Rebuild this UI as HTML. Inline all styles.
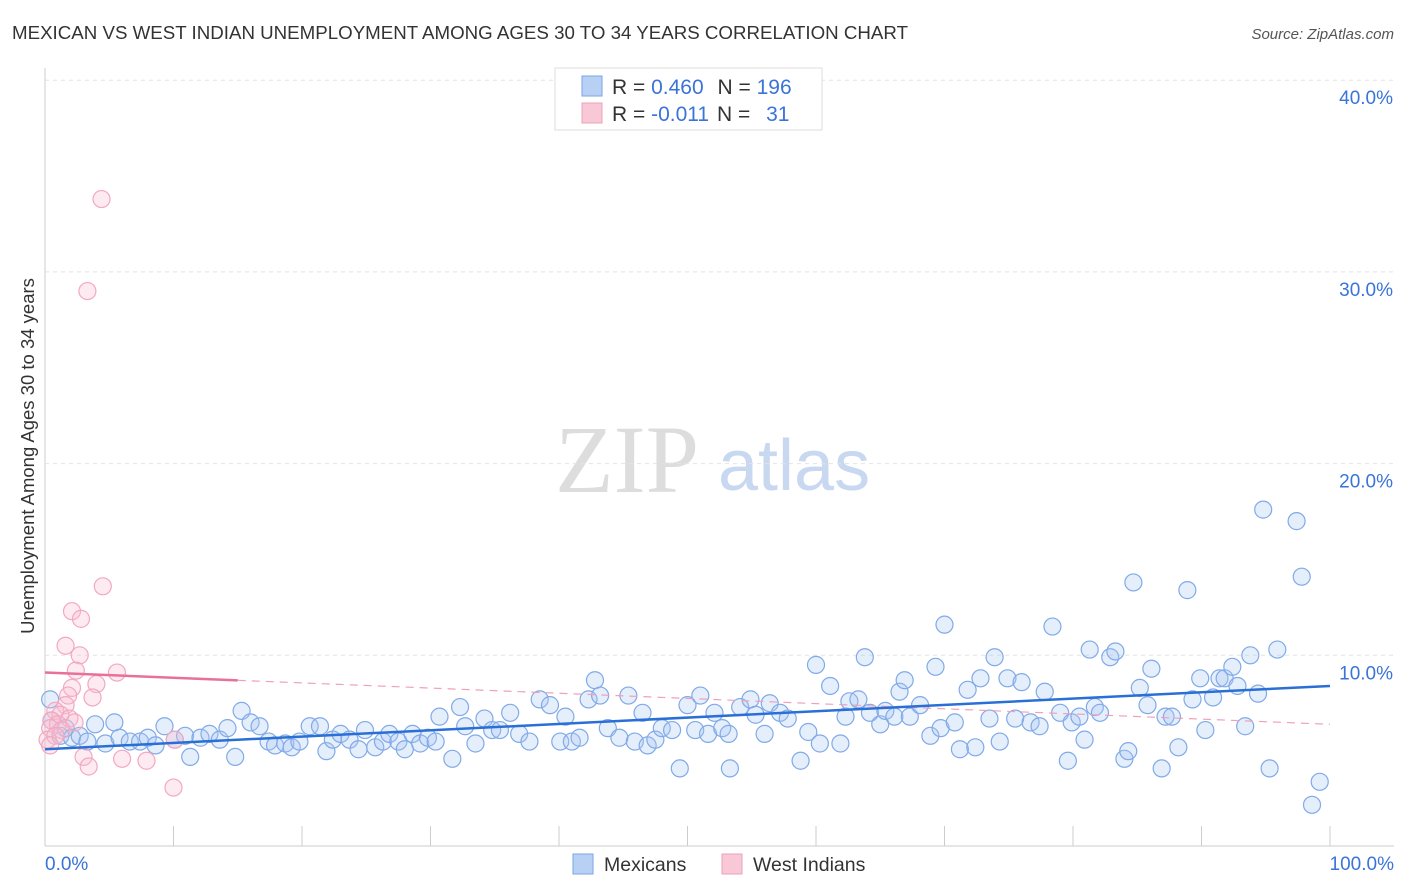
<!DOCTYPE html>
<html><head><meta charset="utf-8"><style>
body{margin:0;background:#fff;font-family:"Liberation Sans",sans-serif;}
svg{display:block}
</style></head><body>
<svg id="chart" width="1406" height="892">
<text x="12" y="39" font-size="18" fill="#333" textLength="896" lengthAdjust="spacingAndGlyphs">MEXICAN VS WEST INDIAN UNEMPLOYMENT AMONG AGES 30 TO 34 YEARS CORRELATION CHART</text>
<text x="1394" y="39" font-size="15" fill="#555" font-style="italic" text-anchor="end">Source: ZipAtlas.com</text>
<text x="34" y="456" font-size="18.5" fill="#333" text-anchor="middle" transform="rotate(-90 34 456)">Unemployment Among Ages 30 to 34 years</text>
<text x="555" y="492" font-size="96" fill="#ddd" font-family="Liberation Serif,serif">ZIP</text>
<text x="718" y="490" font-size="72" fill="#c8d8f0">atlas</text>
<g id="grid"></g><g id="marks"></g>
<g>
<rect x="555" y="68" width="267" height="62" fill="#fff" stroke="#ddd"/>
<rect x="582" y="76" width="20" height="20" fill="#b8d0f4" stroke="#7aa6e6"/>
<rect x="582" y="103" width="20" height="20" fill="#f8c8d6" stroke="#f0a0b8"/>
<text x="612" y="94" font-size="21" fill="#333">R = <tspan fill="#3a74d8">0.460</tspan>  <tspan dx="8">N = </tspan><tspan fill="#3a74d8">196</tspan></text>
<text x="612" y="121" font-size="21" fill="#333">R = <tspan fill="#3a74d8">-0.011</tspan>  <tspan dx="2">N = </tspan><tspan fill="#3a74d8" dx="10">31</tspan></text>
</g>
<g>
<rect x="573" y="854" width="20" height="20" fill="#b8d0f4" stroke="#7aa6e6"/>
<text x="604" y="871" font-size="19.5" fill="#333">Mexicans</text>
<rect x="722" y="854" width="20" height="20" fill="#f8c8d6" stroke="#f0a0b8"/>
<text x="753" y="871" font-size="19.5" fill="#333">West Indians</text>
</g>
<text x="45" y="870" font-size="19" fill="#3a74d8">0.0%</text>
<text x="1394" y="870" font-size="19" fill="#3a74d8" text-anchor="end">100.0%</text>
</svg>
<script>
const yTicks=[10,20,30,40];
const mexX=[0.4,0.5,1.2,1.6,2.1,2.7,3.3,3.9,4.7,5.4,5.8,6.6,7.4,8.0,8.6,9.3,10.1,10.9,11.3,12.1,12.8,13.6,14.2,14.8,15.3,16.0,16.7,17.4,17.9,18.7,19.2,19.8,20.6,21.4,21.9,22.4,23.0,23.7,24.4,24.9,25.7,26.3,26.8,27.5,28.0,28.6,29.2,29.8,30.4,30.7,31.7,32.3,32.7,33.5,34.2,34.8,35.4,36.2,36.9,37.7,38.5,39.3,40.1,40.5,41.0,41.6,42.3,42.8,43.2,43.8,44.7,45.4,45.9,46.5,46.9,47.5,48.0,48.8,49.4,50.0,50.6,51.0,51.6,52.1,52.7,53.2,53.3,54.1,54.9,55.3,56.0,56.4,57.2,57.8,58.8,59.4,60.0,60.3,61.1,61.9,62.3,62.6,63.3,63.8,64.2,65.0,65.4,66.1,66.5,66.9,67.3,68.1,68.9,69.3,69.7,70.0,70.8,71.2,71.8,72.4,72.8,73.5,73.9,74.3,74.9,75.5,76.0,76.7,77.4,77.8,78.4,79.0,79.6,79.9,80.5,80.9,81.3,81.7,82.1,82.9,83.3,84.0,84.3,84.7,85.2,85.8,86.1,86.9,87.2,87.7,88.2,88.9,89.3,89.9,90.3,90.9,91.4,91.8,92.4,92.8,93.4,93.8,94.4,94.8,95.3,95.9,97.4,97.8,98.6,99.2];
const mexY=[7.7,6.6,5.8,6.2,5.7,5.8,5.5,6.4,5.4,6.5,5.7,5.5,5.5,5.7,5.3,6.3,5.6,5.8,4.7,5.7,5.9,5.6,6.2,4.7,7.1,6.5,6.3,5.5,5.3,5.4,5.2,5.5,6.3,6.3,5.0,5.6,5.9,5.6,5.1,6.1,5.2,5.5,5.9,5.5,5.1,5.9,5.4,5.7,5.5,6.8,4.6,7.3,6.3,5.4,6.7,6.1,6.1,7.0,5.9,5.5,7.7,7.4,5.5,6.8,5.5,5.7,7.7,8.7,7.9,6.2,5.7,7.9,5.5,7.0,5.3,5.6,6.2,6.1,4.1,7.4,6.1,7.9,5.9,7.0,6.2,5.9,4.1,7.3,7.7,6.9,5.9,7.5,7.0,6.7,4.5,6.0,9.5,5.4,8.4,5.4,6.8,7.6,7.7,9.9,7.0,6.4,7.1,6.8,8.1,8.7,6.8,7.4,5.8,9.4,6.2,11.6,6.5,5.1,8.2,5.2,8.8,6.7,9.9,5.5,8.8,6.7,8.6,6.5,6.3,8.1,11.5,7.0,4.5,6.5,6.8,5.6,10.3,7.3,7.0,9.9,10.2,4.6,5.0,13.8,8.3,7.4,9.3,4.1,6.8,6.8,5.2,13.4,7.7,8.8,6.1,7.8,8.8,8.8,9.4,8.4,6.3,10.0,8.0,17.6,4.1,10.3,17.0,14.1,2.2,3.4];
const wiX=[4.4,3.3,4.5,2.1,2.8,1.6,2.7,2.4,5.6,2.1,4.0,1.8,3.7,1.6,0.8,1.2,1.9,0.5,1.0,2.3,0.4,1.3,0.2,0.8,10.1,3.0,6.0,3.4,7.9,10.0,0.4];
const wiY=[33.8,29.0,13.6,12.3,11.9,10.5,10.0,9.2,9.1,8.3,8.5,7.9,7.8,7.4,7.1,6.9,6.7,6.6,6.4,6.5,6.2,6.1,5.6,5.8,5.6,4.7,4.6,4.2,4.5,3.1,5.3];
const mexTrend=[5.1,8.4];
const wiTrend=[9.1,6.4];
const wiSolidEnd=15;
const X0=45,X1=1330,Y0=847,PER=19.17;
const sx=v=>X0+(X1-X0)*v/100, sy=v=>Y0-v*PER;
const NS='http://www.w3.org/2000/svg';
const grid=document.getElementById('grid'),marks=document.getElementById('marks');
function mk(p,tag,a){const e=document.createElementNS(NS,tag);for(const k in a)e.setAttribute(k,a[k]);p.appendChild(e);return e;}
let l=mk(grid,'line',{x1:45,x2:1394,y1:846,y2:846,stroke:'#ccc'});


l=mk(grid,'line',{x1:45,x2:45,y1:68,y2:846,stroke:'#ccc'});


for(let i=0;i<=10;i++){const t=mk(grid,'line',{x1:sx(i*10),x2:sx(i*10),y1:826,y2:846,stroke:'#ccc'});

}
yTicks.forEach(v=>{const g=mk(grid,'line',{x1:45,x2:1394,y1:sy(v),y2:sy(v),stroke:'#e4e4e4','stroke-dasharray':'4,4'});


const t=mk(grid,'text',{x:1393,y:sy(v)+24,'font-size':19,fill:'#3a74d8','text-anchor':'end'});t.textContent=v.toFixed(1)+'%';

});
mexX.forEach((x,i)=>{const c=mk(marks,'circle',{cx:sx(x),cy:sy(mexY[i]),r:8.5,fill:'rgba(170,200,242,0.3)',stroke:'#80aae8','stroke-width':1.2});

});
wiX.forEach((x,i)=>{const c=mk(marks,'circle',{cx:sx(x),cy:sy(wiY[i]),r:8.5,fill:'rgba(248,190,210,0.3)',stroke:'#f2a8c0','stroke-width':1.2});

});
const wy=x=>wiTrend[0]+(wiTrend[1]-wiTrend[0])*x/100;
l=mk(marks,'line',{x1:sx(wiSolidEnd),y1:sy(wy(wiSolidEnd)),x2:sx(100),y2:sy(wy(100)),stroke:'#f0a0bc','stroke-width':1.2,'stroke-dasharray':'8,6'});


l=mk(marks,'line',{x1:sx(0),y1:sy(wy(0)),x2:sx(wiSolidEnd),y2:sy(wy(wiSolidEnd)),stroke:'#e8709a','stroke-width':2.5});


l=mk(marks,'line',{x1:sx(0),y1:sy(mexTrend[0]),x2:sx(100),y2:sy(mexTrend[1]),stroke:'#2a6fd6','stroke-width':2.5});


</script>
</body></html>
